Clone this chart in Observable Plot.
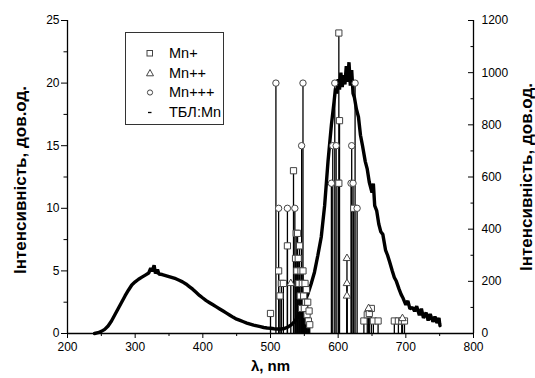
<!DOCTYPE html>
<html><head><meta charset="utf-8">
<script src="https://cdn.jsdelivr.net/npm/d3@7"></script>
<script src="https://cdn.jsdelivr.net/npm/@observablehq/plot@0.6"></script>
<style>
body{margin:0;background:#fff;}
#wrap{position:relative;width:535px;height:378px;font-family:"Liberation Sans",Arial,sans-serif;}
#legend{position:absolute;left:125px;top:32px;width:99px;height:93px;border:1px solid #333;background:#fff;box-sizing:border-box;}
.row{position:absolute;left:0;width:98px;height:20px;font-size:14.5px;line-height:20px;color:#000;font-family:"Liberation Sans",Arial,sans-serif;}
.row svg{position:absolute;left:17px;top:3px;}
.row span{position:absolute;left:43px;top:0;}
</style></head><body><div id="wrap"></div>
<script>
// ---- data ----
const xDomain = [200, 800];
const leftDomain = [0, 25];
const rightMax = 1200;
const xTicks = [200, 300, 400, 500, 600, 700, 800];
const xMinor = [250, 350, 450, 550, 650, 750];
const leftTicks = [0, 5, 10, 15, 20, 25];
const leftMinor = [2.5, 7.5, 12.5, 17.5, 22.5];
const rightTicks = [0, 200, 400, 600, 800, 1000, 1200];
const rightMinor = [100, 300, 500, 700, 900, 1100];

// ТБЛ:Mn spectrum (right axis units)
const tblWl = [240,245,250,255,260,265,270,275,280,285,290,295,300,305,310,315,320,323,325,328,330,333,335,340,345,350,355,360,365,370,375,380,385,390,395,400,405,410,415,420,425,430,435,440,445,450,455,460,465,470,475,480,485,490,495,500,505,510,515,520,525,530,535,540,545,550,555,560,565,570,575,580,585,590,594,596,598,600,602,604,606,608,610,612,614,616,618,620,622,624,627,630,633,636,640,643,646,650,652,654,657,660,663,666,670,673,676,680,683,686,690,693,696,700,703,706,710,713,716,720,723,726,730,733,736,740,743,746,749,750,750.5];
const tblVal = [0,3,8,16,29,48,72,96,120,144,166,186,198,208,216,224,232,250,238,262,230,245,228,226,222,218,214,210,204,198,190,180,170,158,146,136,126,118,110,102,94,86,78,70,62,55,50,45,40,36,32,29,26,23,21,20,18,17,17,19,24,32,44,62,88,118,150,190,235,300,370,490,660,800,890,940,920,975,935,1000,945,990,955,1025,965,1040,950,1010,920,905,860,830,760,720,660,630,580,540,575,490,470,420,390,380,320,300,275,240,215,200,170,150,135,110,125,95,100,85,105,70,95,60,80,50,75,45,65,40,60,38,30,0];

// Mn+ (squares)
const mn1X = [500,512,514,516,519,525,534,537,538,539,540,541,542,543,544,545,546,547,548,549,550,551,552,553,554,555,556,557,558,600,601,602,601,623,638,643,646,649,652,659,683,689,694,698];
const mn1Y = [1.6,5,3,4,4,7,13,6,8,5,8,6,4,7,3,5,2,4,5,3,2,4,2.5,3.5,1.5,2.5,1,1.8,0.7,12,24,17,12,10,1,1.5,1.6,2,1,1,1,1,1,1];
// Mn++ (triangles)
const mn2X = [530,613,613,613,645,695];
const mn2Y = [4,6,4,3,2,1.2];
// Mn+++ (circles)
const mn3X = [508,512,525,536,546,548,590,592,595,597,619,620,622,625,628];
const mn3Y = [20,10,10,10,15,20,12,15,20,15,12,15,12,20,10];

const seriesNames = ["Mn+", "Mn++", "Mn+++", "ТБЛ:Mn"];
const xLabel = "λ, nm";
const yLabel = "Інтенсивність, дов.од.";

// ---- build ----
const k = rightMax / leftDomain[1];
const curve = tblWl.map((w, i) => ({w, v: tblVal[i]}));
const pts = (X, Y) => X.map((x, i) => ({x, y: Y[i]}));
const mn1 = pts(mn1X, mn1Y), mn2 = pts(mn2X, mn2Y), mn3 = pts(mn3X, mn3Y);
const allPts = [...mn1, ...mn2, ...mn3];
const font = "Liberation Sans, Arial, sans-serif";

const chart = Plot.plot({
  width: 535, height: 378,
  marginLeft: 67, marginRight: 62, marginTop: 20, marginBottom: 45,
  x: {domain: xDomain},
  y: {domain: leftDomain},
  style: {fontFamily: font, fontSize: "12px", color: "#000", background: "#fff", overflow: "visible"},
  marks: [
    Plot.line(curve, {x: "w", y: d => d.v / k, stroke: "#000", strokeWidth: 3.4, strokeLinejoin: "miter"}),
    Plot.ruleX(allPts, {x: "x", y1: 0, y2: "y", stroke: "#000", strokeWidth: 1.3}),
    Plot.dot(mn1, {x: "x", y: "y", symbol: "square", r: 3.5, fill: "#fff", stroke: "#444", strokeWidth: 1}),
    Plot.dot(mn2, {x: "x", y: "y", symbol: "triangle", r: 2.8, fill: "#fff", stroke: "#444", strokeWidth: 1}),
    Plot.dot(mn3, {x: "x", y: "y", symbol: "circle", r: 3.2, fill: "#fff", stroke: "#444", strokeWidth: 1}),
    Plot.ruleX(xDomain, {stroke: "#000", strokeWidth: 1.3}),
    Plot.ruleY([leftDomain[0]], {stroke: "#000", strokeWidth: 1.3}),
    Plot.axisX({ticks: xTicks, tickSize: 5, tickPadding: 4, label: null}),
    Plot.axisX({ticks: xMinor, tickSize: 3, tickFormat: () => "", label: null}),
    Plot.axisY({ticks: leftTicks, tickSize: 6, tickPadding: 2, label: null}),
    Plot.axisY({ticks: leftMinor, tickSize: 3.5, tickFormat: () => "", label: null}),
    Plot.axisY({anchor: "right", ticks: rightTicks.map(v => v / k), tickSize: 6, dx: -6, tickFormat: () => "", label: null}),
    Plot.axisY({anchor: "right", ticks: rightMinor.map(v => v / k), tickSize: 3.5, dx: -3.5, tickFormat: () => "", label: null}),
    Plot.axisY({anchor: "right", ticks: rightTicks.map(v => v / k), tickSize: 0, tickPadding: 8, tickFormat: v => String(Math.round(v * k)), label: null}),
    Plot.text([xLabel], {frameAnchor: "bottom", dy: 37, fontWeight: "bold", fontSize: 15}),
    Plot.text([yLabel], {frameAnchor: "left", textAnchor: "middle", dx: -47, dy: 3, rotate: -90, fontWeight: "bold", fontSize: 17}),
    Plot.text([yLabel], {frameAnchor: "right", textAnchor: "middle", dx: 53, dy: 0, rotate: -90, fontWeight: "bold", fontSize: 17})
  ]
});
const wrap = document.getElementById("wrap");
wrap.appendChild(chart);

// legend
const legend = document.createElement("div");
legend.id = "legend";
const syms = [
  '<svg width="14" height="14"><rect x="4" y="4.5" width="5.5" height="5.5" fill="#fff" stroke="#444"/></svg>',
  '<svg width="14" height="14"><path d="M7,3.5L10.5,9.8L3.5,9.8Z" fill="#fff" stroke="#444"/></svg>',
  '<svg width="14" height="14"><circle cx="7" cy="7.5" r="2.6" fill="#fff" stroke="#444"/></svg>',
  '<svg width="14" height="14"><line x1="5" y1="7.5" x2="8.5" y2="7.5" stroke="#000" stroke-width="1.3"/></svg>'
];
const rowTops = [10, 30, 49, 69];
seriesNames.forEach((n, i) => {
  const r = document.createElement("div");
  r.className = "row";
  r.style.top = rowTops[i] + "px";
  r.innerHTML = syms[i] + "<span>" + n + "</span>";
  legend.appendChild(r);
});
wrap.appendChild(legend);
</script></body></html>
